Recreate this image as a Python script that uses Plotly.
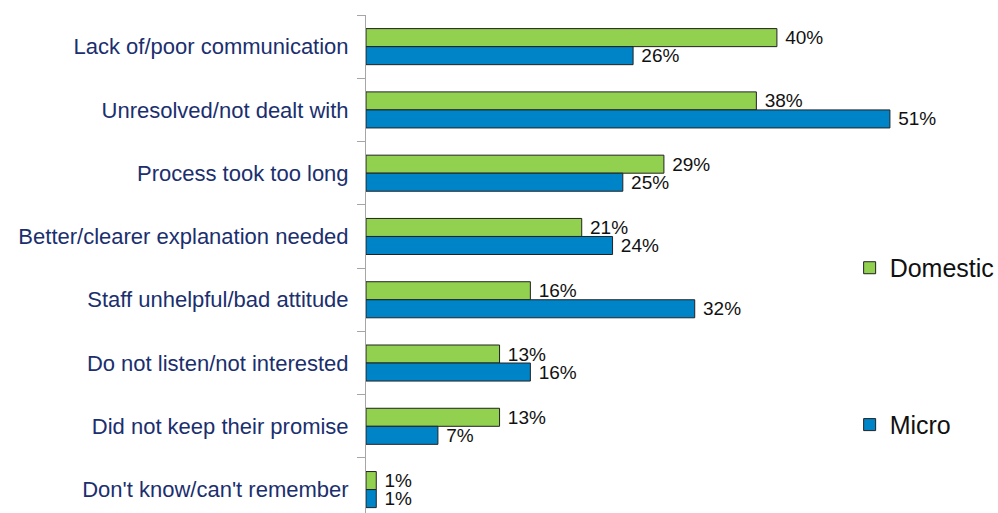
import plotly.graph_objects as go

categories = [
    "Lack of/poor communication",
    "Unresolved/not dealt with",
    "Process took too long",
    "Better/clearer explanation needed",
    "Staff unhelpful/bad attitude",
    "Do not listen/not interested",
    "Did not keep their promise",
    "Don't know/can't remember",
]
domestic = [40, 38, 29, 21, 16, 13, 13, 1]
micro = [26, 51, 25, 24, 32, 16, 7, 1]

GREEN = "#92D050"
BLUE = "#0084C8"
NAVY = "#1B2F6E"
FONT = "Liberation Sans, Arial, sans-serif"
NBSP = "\u00a0"

fig = go.Figure()
fig.add_trace(go.Bar(
    y=categories, x=domestic, orientation="h", name="Domestic",
    marker=dict(color=GREEN, line=dict(color="#222222", width=1)),
    text=[f"{NBSP}{v}%" for v in domestic], textposition="outside",
    textfont=dict(family=FONT, size=19, color="#111111"),
    constraintext="none", cliponaxis=False, legend="legend",
))
fig.add_trace(go.Bar(
    y=categories, x=micro, orientation="h", name="Micro",
    marker=dict(color=BLUE, line=dict(color="#222222", width=1)),
    text=[f"{NBSP}{v}%" for v in micro], textposition="outside",
    textfont=dict(family=FONT, size=19, color="#111111"),
    constraintext="none", cliponaxis=False, legend="legend2",
))

legend_font = dict(family=FONT, size=25, color="#111111")
fig.update_layout(
    width=998, height=513,
    margin=dict(l=366, r=67, t=15, b=0, autoexpand=False),
    paper_bgcolor="white", plot_bgcolor="white",
    barmode="group", bargap=0.43, bargroupgap=0,
    font=dict(family=FONT),
    showlegend=True,
    uniformtext=dict(mode=False),
    legend=dict(x=0.856, y=0.492, xanchor="left", yanchor="middle",
                font=legend_font, bgcolor="rgba(0,0,0,0)"),
    legend2=dict(x=0.856, y=0.177, xanchor="left", yanchor="middle",
                 font=legend_font, bgcolor="rgba(0,0,0,0)"),
)

fig.update_xaxes(range=[0, 55], showgrid=False, zeroline=False,
                 showticklabels=False, showline=False, ticks="")
fig.update_yaxes(
    type="category", range=[7.37, -0.5],
    showgrid=False, zeroline=False,
    showline=True, linecolor="#A6A6A6", linewidth=1,
    ticks="outside", tickson="boundaries", ticklen=8, tickcolor="#A6A6A6",
    tickfont=dict(family=FONT, size=22, color=NAVY),
    ticklabelstandoff=12,
)

fig.write_html("out.html")
